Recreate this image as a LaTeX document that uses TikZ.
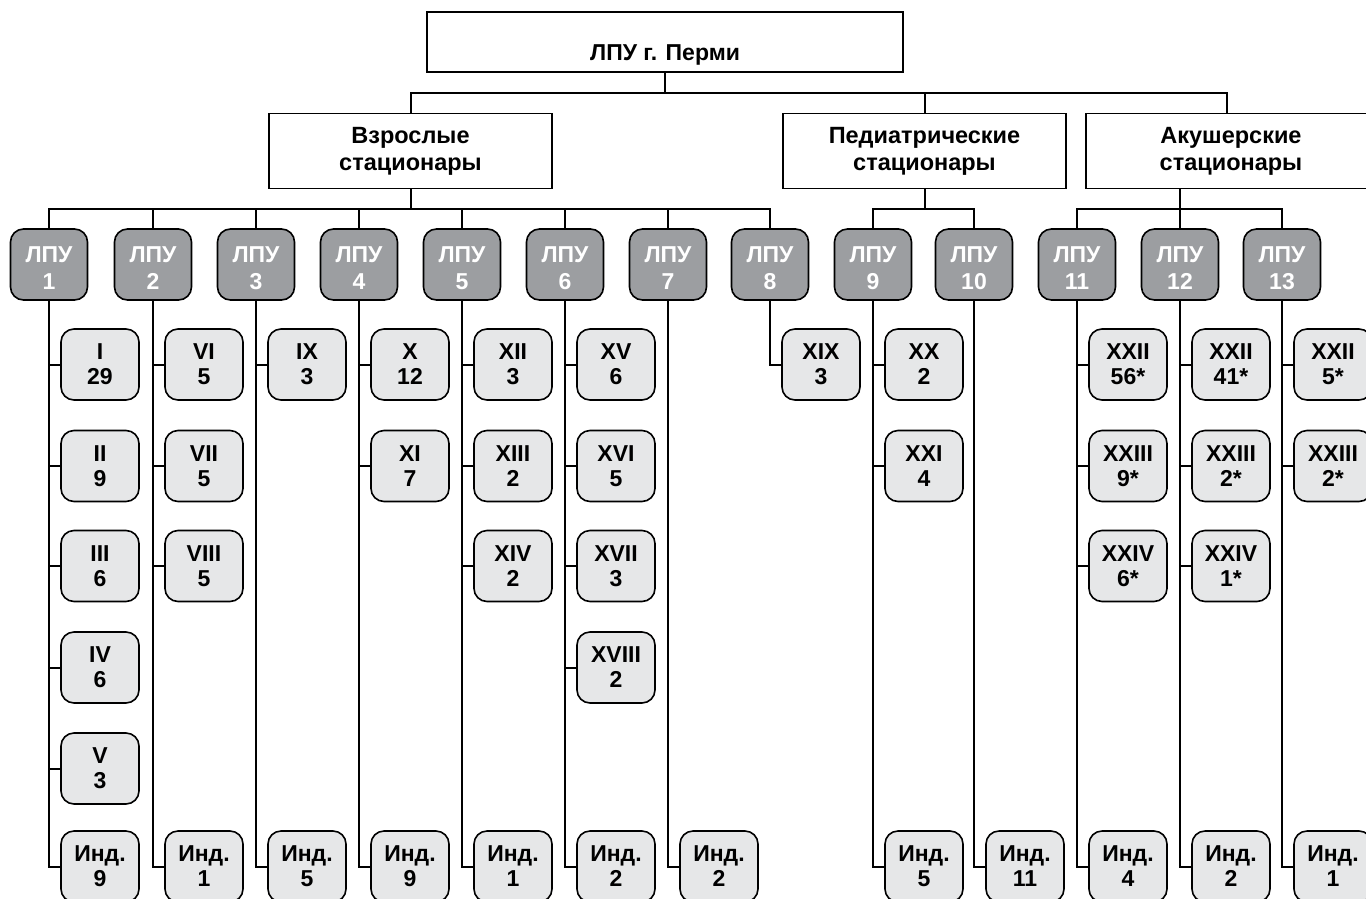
\documentclass[tikz,border=0pt]{standalone}
\usepackage{fontspec}
\setmainfont{Liberation Sans}
\definecolor{lpugray}{RGB}{156,158,161}
\definecolor{subgray}{RGB}{230,231,232}
\tikzset{
  conn/.style={line width=2pt},
  topbox/.style={draw, line width=1.6pt, minimum width=476pt, minimum height=60pt, inner sep=0pt,
    text height=47pt, text depth=11pt,
    font=\bfseries\fontsize{23}{27}\selectfont},
  secbox/.style={draw, fill=white, line width=1.6pt, minimum width=283pt, minimum height=75pt, inner sep=0pt,
    align=center, font=\bfseries\fontsize{23.5}{27}\selectfont},
  lpu/.style={draw, fill=lpugray, rounded corners=13pt, line width=1.6pt, minimum width=77pt,
    minimum height=71pt, inner sep=0pt, align=center, text=white, text height=49pt, text depth=0pt,
    font=\bfseries\fontsize{23}{26.5}\selectfont},
  sub/.style={draw, fill=subgray, rounded corners=13pt, line width=1.6pt, minimum width=78pt,
    minimum height=71pt, inner sep=0pt, align=center, xshift=51pt,
    font=\bfseries\fontsize{23}{25}\selectfont},
}
\begin{document}
\begin{tikzpicture}[x=1pt,y=-1pt]
\useasboundingbox (0,0) rectangle (1366,898);
\clip (0,0) rectangle (1366,898);
% top level
\node[topbox] (top) at (665,42) {ЛПУ г. Перми};
\node[secbox] (vz) at (410.5,151) {Взрослые\\стационары};
\node[secbox] (ped) at (924.5,151) {Педиатрические\\стационары};
\node[secbox, minimum width=290pt] (ak) at (1231,151) {Акушерские\\стационары};
\coordinate (bus) at (667,93);
\draw[conn] (top.south) -- (top.south |- bus);
\draw[conn] (vz.north) |- ([xshift=-4pt]ak.north |- bus) -- ([xshift=-4pt]ak.north);
\draw[conn] (ped.north) -- (ped.north |- bus);
% LPU nodes
\foreach \n/\x in {1/49,2/153,3/256,4/359,5/462,6/565,7/668,8/770,9/873,10/974,11/1077,12/1180,13/1282}
  \node[lpu] (l\n) at (\x,264.5) {ЛПУ\\\n};
\coordinate (abus) at (409,209);
\draw[conn] (vz.south) -- (vz.south |- abus);
\draw[conn] (l1.north) |- (l8.north |- abus) -- (l8.north);
\foreach \n in {2,...,7} \draw[conn] (l\n.north) -- (l\n.north |- abus);
\draw[conn] (ped.south) -- (ped.south |- abus);
\draw[conn] (l9.north) |- (l10.north |- abus) -- (l10.north);
\draw[conn] (ak.south -| l12) -- (l12.north);
\draw[conn] (l11.north) |- (l13.north |- abus) -- (l13.north);
% sub boxes
\def\ra{364.5}\def\rb{466}\def\rc{566}\def\rd{667.5}\def\re{768.5}\def\rf{866.5}
% column 1
\node[sub] (s1a) at (l1 |- 0,\ra) {I\\29};
\node[sub] (s1b) at (l1 |- 0,\rb) {II\\9};
\node[sub] (s1c) at (l1 |- 0,\rc) {III\\6};
\node[sub] (s1d) at (l1 |- 0,\rd) {IV\\6};
\node[sub] (s1e) at (l1 |- 0,\re) {V\\3};
\node[sub] (s1f) at (l1 |- 0,\rf) {Инд.\\9};
% column 2
\node[sub] (s2a) at (l2 |- 0,\ra) {VI\\5};
\node[sub] (s2b) at (l2 |- 0,\rb) {VII\\5};
\node[sub] (s2c) at (l2 |- 0,\rc) {VIII\\5};
\node[sub] (s2f) at (l2 |- 0,\rf) {Инд.\\1};
% column 3
\node[sub] (s3a) at (l3 |- 0,\ra) {IX\\3};
\node[sub] (s3f) at (l3 |- 0,\rf) {Инд.\\5};
% column 4
\node[sub] (s4a) at (l4 |- 0,\ra) {X\\12};
\node[sub] (s4b) at (l4 |- 0,\rb) {XI\\7};
\node[sub] (s4f) at (l4 |- 0,\rf) {Инд.\\9};
% column 5
\node[sub] (s5a) at (l5 |- 0,\ra) {XII\\3};
\node[sub] (s5b) at (l5 |- 0,\rb) {XIII\\2};
\node[sub] (s5c) at (l5 |- 0,\rc) {XIV\\2};
\node[sub] (s5f) at (l5 |- 0,\rf) {Инд.\\1};
% column 6
\node[sub] (s6a) at (l6 |- 0,\ra) {XV\\6};
\node[sub] (s6b) at (l6 |- 0,\rb) {XVI\\5};
\node[sub] (s6c) at (l6 |- 0,\rc) {XVII\\3};
\node[sub] (s6d) at (l6 |- 0,\rd) {XVIII\\2};
\node[sub] (s6f) at (l6 |- 0,\rf) {Инд.\\2};
% column 7
\node[sub] (s7f) at (l7 |- 0,\rf) {Инд.\\2};
% column 8
\node[sub] (s8a) at (l8 |- 0,\ra) {XIX\\3};
% column 9
\node[sub] (s9a) at (l9 |- 0,\ra) {XX\\2};
\node[sub] (s9b) at (l9 |- 0,\rb) {XXI\\4};
\node[sub] (s9f) at (l9 |- 0,\rf) {Инд.\\5};
% column 10
\node[sub] (s10f) at (l10 |- 0,\rf) {Инд.\\11};
% column 11
\node[sub] (s11a) at (l11 |- 0,\ra) {XXII\\56*};
\node[sub] (s11b) at (l11 |- 0,\rb) {XXIII\\9*};
\node[sub] (s11c) at (l11 |- 0,\rc) {XXIV\\6*};
\node[sub] (s11f) at (l11 |- 0,\rf) {Инд.\\4};
% column 12
\node[sub] (s12a) at (l12 |- 0,\ra) {XXII\\41*};
\node[sub] (s12b) at (l12 |- 0,\rb) {XXIII\\2*};
\node[sub] (s12c) at (l12 |- 0,\rc) {XXIV\\1*};
\node[sub] (s12f) at (l12 |- 0,\rf) {Инд.\\2};
% column 13
\node[sub] (s13a) at (l13 |- 0,\ra) {XXII\\5*};
\node[sub] (s13b) at (l13 |- 0,\rb) {XXIII\\2*};
\node[sub] (s13f) at (l13 |- 0,\rf) {Инд.\\1};
% connectors to sub boxes
\foreach \c in {1,...,7,9,10,11,12,13}
  \draw[conn] (l\c.south) |- (s\c f.west);
\draw[conn] (l8.south) |- (s8a.west);
\foreach \b in {s1a,s1b,s1c,s1d,s1e,s2a,s2b,s2c,s3a,s4a,s4b,s5a,s5b,s5c,s6a,s6b,s6c,s6d,s9a,s9b,s11a,s11b,s11c,s12a,s12b,s12c,s13a,s13b}
  \draw[conn] (\b.west) -- ++(-12pt,0);
\end{tikzpicture}
\end{document}
